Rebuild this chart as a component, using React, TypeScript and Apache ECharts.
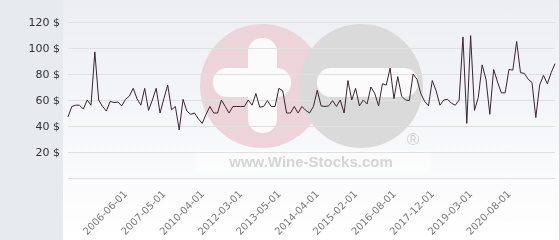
import React, { useEffect, useRef } from "react";
import * as echarts from "echarts";

// Monthly price points (USD)
const prices: number[] = [
  47, 55, 56, 56, 53, 60, 56, 97, 60, 55,
  51.5, 59, 58, 58.5, 55.5, 60.5, 63, 69, 61, 56,
  69, 52, 60, 69, 50, 61, 71.5, 52.5, 55, 37,
  60.5, 51.5, 49, 50, 45.5, 42, 49, 55, 50, 50,
  60, 55, 50, 55, 55, 55, 55, 60, 56, 65,
  54.5, 55, 59.5, 55, 55, 69, 67, 50, 50, 55,
  50, 55, 52, 50, 55, 67.5, 55.5, 55, 55.5, 59.5,
  55, 60, 50, 75, 60, 69, 55.5, 60, 57, 70,
  65, 55.5, 72.5, 71.5, 84.5, 61, 78, 63, 60, 59.5,
  80, 76, 65, 59, 55.5, 75, 67, 56, 60, 60.5,
  57.5, 56, 60, 108.5, 42, 109.5, 52, 62, 87, 76,
  49, 83.5, 74, 65.5, 65.5, 83.5, 83, 105, 81, 80.5,
  76, 73.5, 46.5, 71.5, 79, 72.5, 81, 88,
];

// Dates shown on the x axis
const tickLabels: string[] = [
  "2006-06-01", "2007-05-01", "2010-04-01", "2012-03-01", "2013-05-01",
  "2014-04-01", "2015-02-01", "2016-08-01", "2017-12-01", "2019-03-01",
  "2020-08-01",
];
const firstLabelIndex = 15;
const labelStep = 10;

const yTicks: number[] = [0, 20, 40, 60, 80, 100, 120];

function labelSlot(i: number): number {
  const k = (i - firstLabelIndex) / labelStep;
  return Number.isInteger(k) && k >= 0 && k < tickLabels.length ? k : -1;
}

const categories = prices.map((_, i) => {
  const k = labelSlot(i);
  return k >= 0 ? tickLabels[k] : String(i);
});

export default function App() {
  const ref = useRef<HTMLDivElement>(null);

  useEffect(() => {
    if (!ref.current) return;
    const chart = echarts.init(ref.current, null, { renderer: "svg" });
    const option: any = {
      animation: false,
      grid: { left: 68, right: 5, top: 22, bottom: 62, containLabel: false },
      graphic: [
        {
          type: "rect",
          z: -20,
          shape: { x: 0, y: 0, width: 63, height: 240 },
          style: { fill: "#e7ebee" },
        },
        {
          type: "rect",
          z: -20,
          shape: { x: 63, y: 0, width: 496, height: 240 },
          style: {
            fill: new echarts.graphic.LinearGradient(0, 0, 0, 1, [
              { offset: 0, color: "#eceef3" },
              { offset: 1, color: "#ffffff" },
            ]),
          },
        },
        {
          type: "line",
          z: -19,
          shape: { x1: 559.5, y1: 0, x2: 559.5, y2: 240 },
          style: { stroke: "#d4d4d4", lineWidth: 1 },
        },
        {
          type: "circle",
          z: -15,
          shape: { cx: 262, cy: 86, r: 62 },
          style: { fill: "#ecd4da" },
        },
        {
          type: "circle",
          z: -14,
          shape: { cx: 361, cy: 86, r: 62 },
          style: { fill: "#dadada" },
        },
        {
          type: "rect",
          z: -13,
          shape: { x: 248, y: 38, width: 29, height: 95, r: 14 },
          style: { fill: "#fbfbfc" },
        },
        {
          type: "rect",
          z: -13,
          shape: { x: 213, y: 68, width: 78, height: 29, r: 14 },
          style: { fill: "#fbfbfc" },
        },
        {
          type: "rect",
          z: -13,
          shape: { x: 317, y: 68, width: 101, height: 29, r: 14 },
          style: { fill: "#fbfbfc" },
        },
        {
          type: "rect",
          z: -12,
          shape: { x: 196, y: 150, width: 234, height: 23 },
          style: { fill: "rgba(255,255,255,0.4)" },
        },
        {
          type: "text",
          z: -11,
          x: 311,
          y: 161,
          style: {
            text: "www.Wine-Stocks.com",
            fontFamily: "Liberation Sans",
            fontWeight: "bold",
            fontSize: 15,
            fill: "#d5d5d5",
            align: "center",
            verticalAlign: "middle",
          },
        },
        {
          type: "text",
          z: -11,
          x: 413,
          y: 139,
          style: {
            text: "®",
            fontFamily: "Liberation Sans",
            fontSize: 17,
            fill: "#d2d2d2",
            align: "center",
            verticalAlign: "middle",
          },
        },
      ],
      xAxis: {
        type: "category",
        data: categories,
        boundaryGap: false,
        axisLine: { show: false },
        axisTick: { show: false },
        splitLine: { show: false },
        axisLabel: {
          interval: (index: number) => labelSlot(index) >= 0,
          formatter: (_v: string, index: number) => {
            const k = labelSlot(index);
            return k >= 0 ? tickLabels[k] : "";
          },
          rotate: 45,
          fontSize: 10,
          color: "#7a7a7a",
          fontFamily: "DejaVu Sans",
          margin: 14,
        },
      },
      yAxis: {
        type: "value",
        min: yTicks[0],
        max: yTicks[yTicks.length - 1],
        interval: 20,
        axisLine: { show: false },
        axisTick: { show: false },
        splitLine: { lineStyle: { color: "#e0e0e0", width: 1 } },
        axisLabel: {
          formatter: (v: number) => (v === 0 ? "" : `${v} $`),
          fontSize: 11,
          color: "#333333",
          fontFamily: "DejaVu Sans",
          margin: 8,
        },
      },
      series: [
        {
          type: "line",
          data: prices,
          symbol: "none",
          z: 5,
          lineStyle: { color: "#3a2530", width: 1 },
        },
      ],
    };
    chart.setOption(option);
    return () => chart.dispose();
  }, []);

  return (
    <div
      ref={ref}
      style={{ position: "fixed", left: 0, top: 0, width: 560, height: 240 }}
    />
  );
}
